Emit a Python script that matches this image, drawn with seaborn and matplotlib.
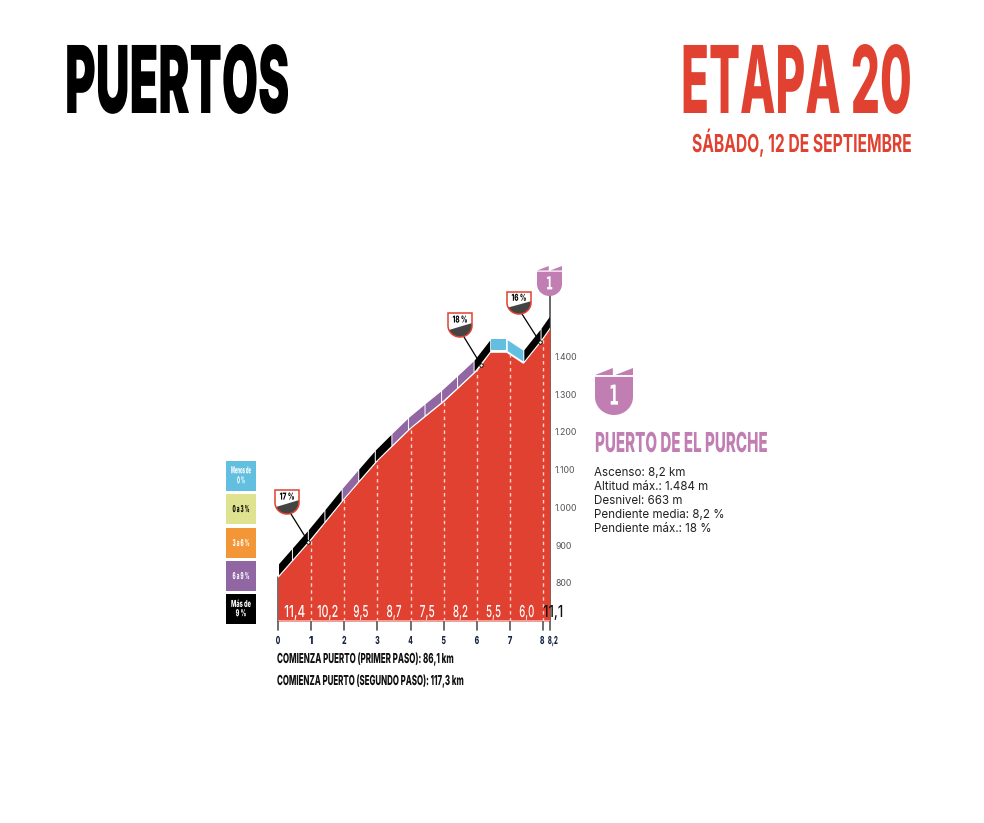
import numpy as np
import matplotlib
matplotlib.use("Agg")
import matplotlib.pyplot as plt
import matplotlib.patheffects as pe
from matplotlib.patches import Polygon, Rectangle
from matplotlib.transforms import Affine2D
import seaborn as sns

W, H = 984, 823

# profile
km = [0, 1, 2, 3, 4, 5, 6, 6.4, 6.9, 7.4, 8, 8.2]
alt = [819, 919, 1027, 1128, 1213, 1284, 1366, 1414, 1414, 1385, 1451, 1477]

grades = ["11,4", "10,2", "9,5", "8,7", "7,5", "8,2", "5,5", "6,0", "11,1"]
grade_km = [0.5, 1.5, 2.5, 3.5, 4.5, 5.5, 6.5, 7.5, 8.3]
km_ticks = [0, 1, 2, 3, 4, 5, 6, 7, 8, 8.2]
km_labels = ["0", "1", "2", "3", "4", "5", "6", "7", "8", "8,2"]
alt_ticks = [800, 900, 1000, 1100, 1200, 1300, 1400]
alt_labels = ["800", "900", "1.000", "1.100", "1.200", "1.300", "1.400"]

seg_edges = [0, 0.42, 0.9, 1.4, 1.92, 2.42, 2.92, 3.42, 3.92, 4.42, 4.92, 5.4, 5.9, 6.4, 6.9, 7.4, 7.92, 8.2]
seg_class = ["x", "x", "x", "x", "p", "x", "x", "p", "p", "p", "p", "p", "x", "b", "b", "x", "x"]
class_colors = {"b": "#62BFE0", "y": "#DFE28E", "o": "#F39638", "p": "#9066A3", "x": "#000000"}

legend_labels = ["Menos de\n0 %", "0 a 3 %", "3 a 6 %", "6 a 9 %", "Más de\n9 %"]
legend_colors = ["#62BFE0", "#DFE28E", "#F39638", "#9066A3", "#000000"]
legend_text = ["white", "black", "white", "white", "white"]
legend_y = [461, 494, 528, 561, 594]

info_lines = ["Ascenso: 8,2 km", "Altitud máx.: 1.484 m", "Desnivel: 663 m",
              "Pendiente media: 8,2 %", "Pendiente máx.: 18 %"]

RED = "#E04130"
MAUVE = "#C17EB2"

sns.set_theme(style="white")
plt.rcParams["font.family"] = ["Inter", "DejaVu Sans"]

fig = plt.figure(figsize=(W / 100, H / 100), dpi=100)
fig.patch.set_facecolor("white")

# axes box in pixels: km 0-8.2, altitude from the base line up
px_km = 33.15
px_m = 0.378
y0 = 621
alt_base = 800 - (y0 - 584) / px_m
ax = fig.add_axes([278 / W, 1 - y0 / H, 8.2 * px_km / W, 360 / H])
ax.set_xlim(0, 8.2)
ax.set_ylim(alt_base, alt_base + 360 / px_m)
ax.axis("off")
ax.patch.set_alpha(0)


def fx(x):
    return x / W


def fy(y):
    return 1 - y / H


class Stretch(pe.AbstractPathEffect):
    def __init__(self, sy, y_px):
        super().__init__()
        self.sy, self.y_px = sy, y_px

    def draw_path(self, renderer, gc, tpath, affine, rgbFace=None):
        stretch = Affine2D().translate(0, -self.y_px).scale(1, self.sy).translate(0, self.y_px)
        renderer.draw_path(gc, tpath, affine + stretch, rgbFace)


def cond(x, y, s, cap, width, color="black", ha="left", weight=900, va="baseline", family="Inter"):
    # no narrow poster font here: size the text to its width, then pull it up to the cap height
    t = fig.text(fx(x), fy(y), s, fontsize=20, family=family, weight=weight, color=color,
                 ha=ha, va=va, linespacing=1.1)
    real = t.get_window_extent(fig.canvas.get_renderer()).width
    size = 20 * width / real
    t.set_fontsize(size)
    t.set_path_effects([Stretch(cap / (0.727 * size * 100 / 72), H - y)])
    return t


def shield_pts(x, y, w, h):
    # flat top, straight sides, round bottom
    r = w / 2
    a = np.linspace(0, np.pi, 30)
    arc_x = x + r + r * np.cos(a)
    arc_y = y + h - r * 0.95 + r * 0.95 * np.sin(a)
    xs = np.r_[x, x + w, arc_x]
    ys = np.r_[y, y, arc_y]
    return np.c_[fx(xs), fy(ys)]


def mountain_badge(x, y, w, h, cap, width):
    tab = h * 0.15
    gap = w * 0.03
    body = Polygon(shield_pts(x, y + tab + h * 0.04, w, h - tab - h * 0.04), color=MAUVE,
                   transform=fig.transFigure, lw=0)
    fig.add_artist(body)
    for left, right in [(x, x + w / 2 - gap), (x + w / 2 + gap, x + w)]:
        pts = [(fx(left), fy(y + tab)), (fx(right), fy(y)), (fx(right), fy(y + tab))]
        fig.add_artist(Polygon(pts, color=MAUVE, transform=fig.transFigure, lw=0))
    cond(x + w / 2, y + h * 0.78, "1", cap, width, color="white", ha="center", weight="bold", family="DejaVu Sans")


def slope_badge(x, y, w, h, label, target, start):
    # target is (km, altitude) on the profile
    ax.annotate("", xy=target, xytext=(fx(start[0]), fy(start[1])), textcoords="figure fraction",
                arrowprops=dict(arrowstyle="-", color="black", lw=0.9, shrinkA=0, shrinkB=0),
                annotation_clip=False, zorder=6)
    ax.plot(*target, "o", ms=2.5, mfc="white", mec="black", mew=0.6, zorder=7, clip_on=False)
    pts = shield_pts(x, y, w, h)
    fig.add_artist(Polygon(pts, fc="white", ec="none", transform=fig.transFigure))
    clip = Polygon(pts, fc="none", ec="none", transform=fig.transFigure)
    fig.add_artist(clip)
    wedge = Polygon([(fx(x), fy(y + h * 0.72)), (fx(x + w), fy(y + h * 0.42)),
                     (fx(x + w), fy(y + h)), (fx(x), fy(y + h))],
                    fc="#444444", ec="none", transform=fig.transFigure)
    fig.add_artist(wedge)
    wedge.set_clip_path(clip)
    fig.add_artist(Polygon(pts, fc="none", ec=RED, lw=1.1, transform=fig.transFigure))
    cond(x + w / 2, y + h * 0.4, label, 7, w * 0.62, ha="center", weight=800)


# headers
cond(65, 113, "PUERTOS", 68, 224)
cond(681, 113, "ETAPA 20", 68, 231, color=RED, weight=800)
cond(692, 152, "SÁBADO, 12 DE SEPTIEMBRE", 18, 220, color=RED, weight=700)

# legend
for lab, c, tc, y in zip(legend_labels, legend_colors, legend_text, legend_y):
    fig.add_artist(Rectangle((fx(226), fy(y + 30)), 30 / W, 30 / H, color=c, lw=0))
    cond(241, y + 15, lab, 7, 17 if "\n" not in lab else 20, color=tc, ha="center", va="center", weight=800)

# axis lines and ticks
for k in km_ticks:
    ax.plot([k, k], [alt_base - 9 / px_m, alt_base], color="#555555", lw=1.2, clip_on=False)
ax.plot([8.2, 8.2], [alt_base, alt_base + (621 - 295) / px_m], color="#666666", lw=1.4, clip_on=False, zorder=1)
ax.plot([0, 0], [alt_base, alt[0]], color="#555555", lw=1.2, clip_on=False, zorder=1)

# profile
ax.fill_between(km, alt, alt_base, color=RED, lw=0, zorder=2)
sns.lineplot(x=km, y=alt, color="white", lw=1.2, ax=ax, zorder=3, legend=False, errorbar=None)
ax.plot([0, 8.2], [alt_base, alt_base], color="#F4B5AC", lw=1.2, zorder=3)

# dashed km marks
for k in km_ticks[1:-1]:
    ax.plot([k, k], [alt_base, np.interp(k, km, alt)], color="#F7D5CF", lw=1, ls=(0, (2.5, 2.5)), zorder=3)

# slope strip on top of the profile
gap = 1.5 / px_m
thick = 11 / px_m
for a, b, cl in zip(seg_edges[:-1], seg_edges[1:], seg_class):
    xs = np.array([a + 0.015, b - 0.015])
    base = np.interp(xs, km, alt) + gap
    ax.fill_between(xs, base, base + thick, color=class_colors[cl], lw=0, zorder=4, clip_on=False)

# gradient per km
for s, k in zip(grades[:-1], grade_km[:-1]):
    px = ax.transData.transform((k, 800))[0]
    cond(px, 617, s, 12, 21 if len(s) > 3 else 15, color="white", ha="center", weight=500)
px = ax.transData.transform((grade_km[-1], 800))[0]
cond(px, 617, grades[-1], 12, 20, color="#111111", ha="center", weight=500)

# km labels
for k, s in zip(km_ticks, km_labels):
    px = ax.transData.transform((k, 800))[0]
    if s == "8,2":
        px += 3
    elif s == "8":
        px -= 1
    cond(px, 644, s, 8, 4.5 if len(s) == 1 else 10, color="#14233f", ha="center", weight=800)

# altitude labels
for a, s in zip(alt_ticks, alt_labels):
    fig.text(fx(555), fy(584 - (a - 800) * px_m), s, fontsize=6.3, color="#555555", va="center")

cond(277, 663, "COMIENZA PUERTO (PRIMER PASO): 86,1 km", 10, 177, color="#111111", weight=800)
cond(277, 685, "COMIENZA PUERTO (SEGUNDO PASO): 117,3 km", 10, 187, color="#111111", weight=800)

# slope call-outs
slope_badge(275, 490, 24, 24, "17 %", (0.92, np.interp(0.92, km, alt)), (291, 514))
slope_badge(448, 313, 24, 24, "18 %", (6.12, np.interp(6.12, km, alt)), (464, 337))
slope_badge(507, 292, 24, 22, "16 %", (7.9, np.interp(7.9, km, alt)), (522, 314))

# climb badges
mountain_badge(537, 266, 25, 30, 13, 7)
mountain_badge(595, 368, 38, 47, 20, 10)

# climb panel
cond(595, 452, "PUERTO DE EL PURCHE", 20, 173, color=MAUVE, weight=800)
for i, line in enumerate(info_lines):
    fig.text(fx(594), fy(473 + i * 14), line, fontsize=8.35, color="#222222", va="center")

fig.savefig("out.png", dpi=100, facecolor="white")
